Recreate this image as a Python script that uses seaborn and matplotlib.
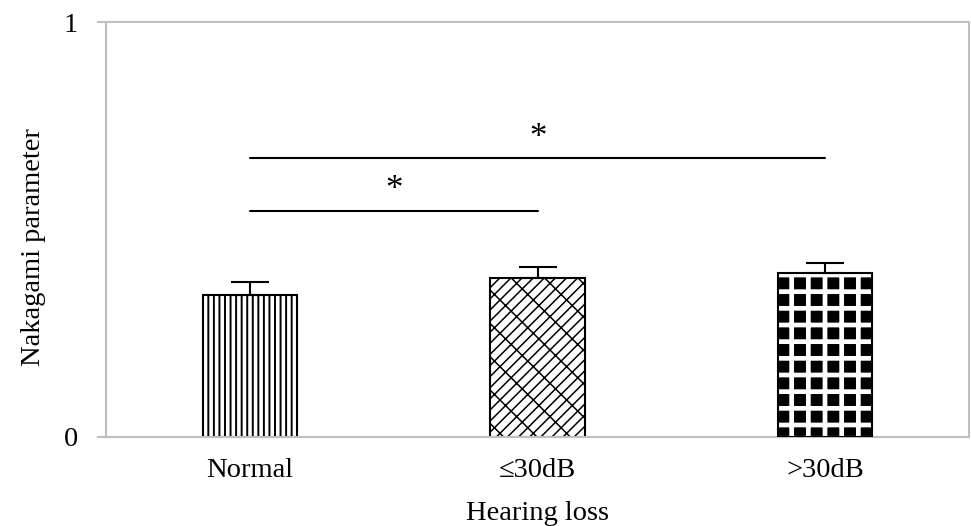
import matplotlib
matplotlib.use('Agg')
import matplotlib.pyplot as plt
import seaborn as sns
import numpy as np
import pandas as pd

# ---- data ----
categories = ['Normal', '≤30dB', '>30dB']
means = [0.342, 0.384, 0.396]
sd_upper = [0.031, 0.026, 0.023]
sig_pairs = [(0, 1), (0, 2)]
sig_heights = [0.545, 0.672]
sig_labels = ['*', '*']
y_ticks = [0, 1]
y_ticklabels = ['0', '1']
x_label = 'Hearing loss'
y_label = 'Nakagami parameter'

sns.set_theme(style='white')
plt.rcParams['font.family'] = ['Liberation Serif', 'DejaVu Serif']

FS = 20.5
W, H = 971, 526
fig = plt.figure(figsize=(W / 100, H / 100), dpi=100)
ax = fig.add_axes([106 / W, 1 - 437 / H, 863 / W, 415 / H])

df = pd.DataFrame({'group': categories, 'value': means})
bar_w = 0.327
sns.barplot(data=df, x='group', y='value', order=categories, color='white',
            saturation=1, edgecolor='black', linewidth=1.5, width=bar_w,
            errorbar=None, ax=ax, zorder=2)

patches = list(ax.patches)
hatches = ['|||', '///\\', '+']
hatch_lw = [1.4, 1.1, 3.4]
for p, h, lw in zip(patches, hatches, hatch_lw):
    p.set_hatch(h)
    try:
        p.set_hatch_linewidth(lw)
    except Exception:
        pass
# third bar: black face with white grid leaving black blocks
patches[2].set_facecolor('black')
patches[2].set_edgecolor('white')
ax.bar([2], [means[2]], width=bar_w, fill=False, edgecolor='black',
       linewidth=1.5, zorder=3)

# error bars (upper only)
xpos = np.arange(len(categories))
ax.errorbar(xpos, means, yerr=[np.zeros(len(means)), sd_upper], fmt='none',
            ecolor='black', elinewidth=1.5, capsize=13.7, capthick=1.5,
            zorder=4)

# significance brackets
for (a, b), h, lab in zip(sig_pairs, sig_heights, sig_labels):
    ax.plot([a, b], [h, h], color='black', lw=1.5, zorder=4)
    ax.text((a + b) / 2, h + 0.028, lab, ha='center', va='baseline',
            fontsize=25, color='black')

ax.set_ylim(0, 1)
ax.set_xlim(-0.5, 2.5)
ax.set_yticks(y_ticks)
ax.set_yticklabels(y_ticklabels)

for s in ax.spines.values():
    s.set_visible(True)
    s.set_color('#bfbfbf')
    s.set_linewidth(1.5)

ax.tick_params(axis='y', left=True, length=6.5, width=1.5, color='#bfbfbf',
               pad=13.7, labelsize=FS, labelcolor='black')
ax.tick_params(axis='x', bottom=False, length=0, pad=15, labelsize=FS,
               labelcolor='black')

ax.set_xlabel(x_label, fontsize=FS, color='black')
ax.set_ylabel(y_label, fontsize=FS, color='black')
ax.xaxis.set_label_coords(0.5, -0.155)
ax.yaxis.set_label_coords(-0.0700, 0.4566)

fig.savefig('out.png', dpi=100)
